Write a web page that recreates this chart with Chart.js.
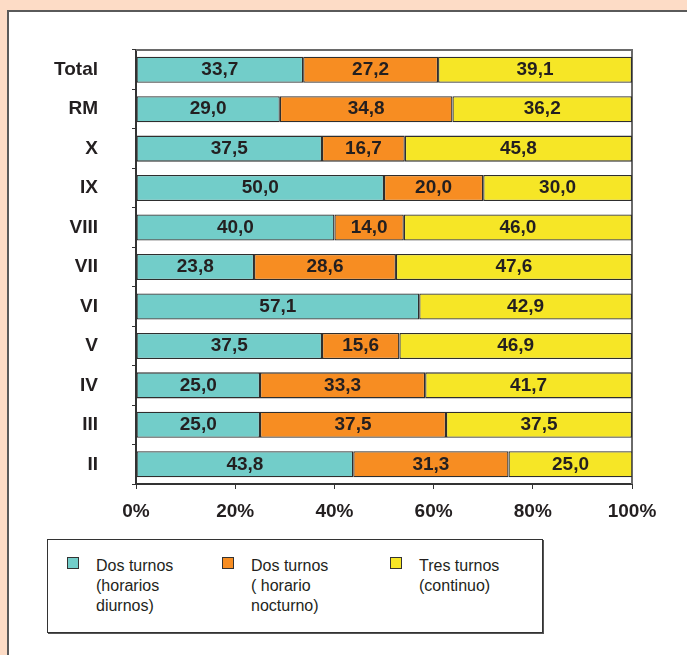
<!DOCTYPE html>
<html>
<head>
<meta charset="utf-8">
<script src="https://cdn.jsdelivr.net/npm/chart.js@4"></script>
<style>
  body { margin: 0; background: #fddcc6; width: 687px; height: 655px; overflow: hidden; position: relative; font-family: "Liberation Sans", Arial, sans-serif; }
  #panel { position: absolute; left: 7px; top: 10px; width: 690px; height: 660px; background: #fff; border-left: 2px solid #5a5a5a; border-top: 2px solid #5a5a5a; }
  #chart { position: absolute; left: 0; top: 0; }
  #legend { position: absolute; left: 47px; top: 539px; width: 494px; height: 92px; border: 1px solid #333; box-shadow: 1px 1px 0 #555; }
  .item { position: absolute; top: 16px; font-size: 16px; line-height: 20px; color: #231f20; }
  .item .sw { position: absolute; left: -29px; top: 1px; width: 10px; height: 10px; border: 1px solid #333; }
</style>
</head>
<body>
<div id="panel"></div>
<canvas id="chart" width="687" height="530"></canvas>
<div id="legend"></div>
<script>
// Regiones (de arriba hacia abajo)
const categories = ["Total", "RM", "X", "IX", "VIII", "VII", "VI", "V", "IV", "III", "II"];
// Porcentajes por tipo de turno
const dosTurnosDiurnos = [33.7, 29.0, 37.5, 50.0, 40.0, 23.8, 57.1, 37.5, 25.0, 25.0, 43.8];
const dosTurnosNocturno = [27.2, 34.8, 16.7, 20.0, 14.0, 28.6, 0, 15.6, 33.3, 37.5, 31.3];
const tresTurnos = [39.1, 36.2, 45.8, 30.0, 46.0, 47.6, 42.9, 46.9, 41.7, 37.5, 25.0];
const xTicks = [0, 20, 40, 60, 80, 100];

const seriesLabels = [
  ["Dos turnos", "(horarios", "diurnos)"],
  ["Dos turnos", "( horario", "nocturno)"],
  ["Tres turnos", "(continuo)"]
];
const seriesColors = ["#72cdc9", "#f78d22", "#f6e626"];

// Marco superior y derecho del área de gráfico
const frame = {
  id: "frame",
  beforeDatasetsDraw(chart) {
    const { ctx, chartArea: a } = chart;
    ctx.save();
    ctx.strokeStyle = "#6a6a6a";
    ctx.lineWidth = 2;
    ctx.beginPath();
    ctx.moveTo(a.left, a.top);
    ctx.lineTo(a.right, a.top);
    ctx.lineTo(a.right, a.bottom);
    ctx.stroke();
    ctx.restore();
  }
};

// Valores dentro de las barras
const valueLabels = {
  id: "valueLabels",
  afterDatasetsDraw(chart) {
    const ctx = chart.ctx;
    ctx.save();
    ctx.font = "bold 19px 'Liberation Sans', Arial, sans-serif";
    ctx.fillStyle = "#231f20";
    ctx.textAlign = "center";
    ctx.textBaseline = "middle";
    chart.data.datasets.forEach((ds, i) => {
      chart.getDatasetMeta(i).data.forEach((bar, j) => {
        const v = ds.data[j];
        if (!v) return;
        const p = bar.getCenterPoint();
        ctx.fillText(v.toFixed(1).replace(".", ","), p.x, p.y);
      });
    });
    ctx.restore();
  }
};

const axisFont = { family: "'Liberation Sans Narrow', 'Liberation Sans', Arial, sans-serif", weight: "bold", size: 19 };

new Chart(document.getElementById("chart"), {
  type: "bar",
  data: {
    labels: categories,
    datasets: [dosTurnosDiurnos, dosTurnosNocturno, tresTurnos].map((d, i) => ({
      label: seriesLabels[i].join(" "),
      data: d,
      backgroundColor: seriesColors[i],
      borderColor: "#2e2e2e",
      borderWidth: 1.3,
      borderSkipped: false,
      barPercentage: 0.66,
      categoryPercentage: 1
    }))
  },
  options: {
    indexAxis: "y",
    responsive: false,
    animation: false,
    devicePixelRatio: 1,
    layout: { padding: { top: 50, right: 55, left: 0, bottom: 0 } },
    plugins: { legend: { display: false }, tooltip: { enabled: false } },
    scales: {
      x: {
        stacked: true,
        min: 0,
        max: 100,
        afterBuildTicks: s => { s.ticks = xTicks.map(v => ({ value: v })); },
        afterFit: s => { s.height = 46; },
        ticks: { callback: v => v + "%", color: "#231f20", font: axisFont, padding: 11, maxRotation: 0 },
        grid: { drawOnChartArea: false, tickLength: 5, color: "#333" },
        border: { color: "#333", width: 2 }
      },
      y: {
        stacked: true,
        afterFit: s => { s.width = 136; },
        ticks: { color: "#231f20", font: axisFont, padding: 34 },
        grid: { drawOnChartArea: false, tickLength: 4, color: "#333", offset: true },
        border: { color: "#333", width: 2 }
      }
    }
  },
  plugins: [frame, valueLabels]
});

// Leyenda en HTML
const legendLeft = [48, 203, 371];
const legend = document.getElementById("legend");
seriesLabels.forEach((lines, i) => {
  const el = document.createElement("div");
  el.className = "item";
  el.style.left = legendLeft[i] + "px";
  el.innerHTML = '<span class="sw" style="background:' + seriesColors[i] + '"></span>' + lines.join("<br>");
  legend.appendChild(el);
});
</script>
</body>
</html>
